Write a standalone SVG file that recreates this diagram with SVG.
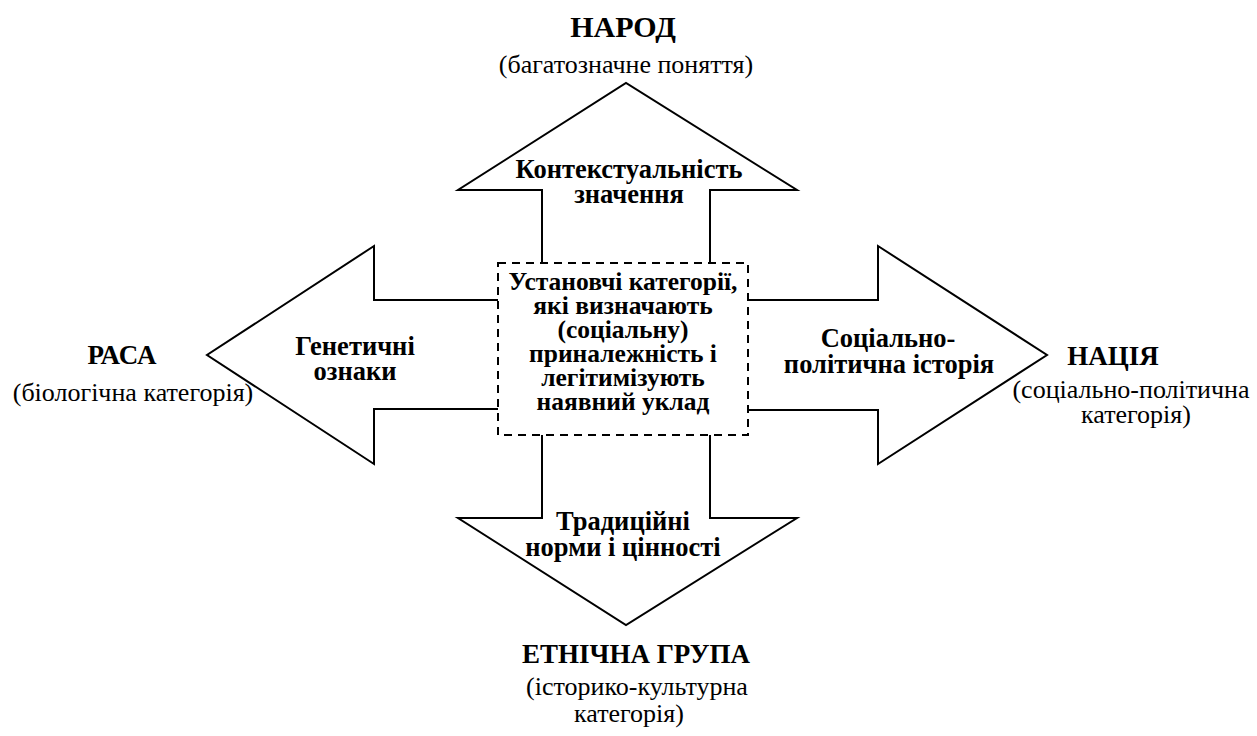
<svg xmlns="http://www.w3.org/2000/svg" width="1257" height="736" viewBox="0 0 1257 736" lang="uk">
<style>
.shape{fill:none;stroke:#000;stroke-width:2;stroke-linejoin:miter}
.box{fill:none;stroke:#000;stroke-width:2;stroke-dasharray:8 6}
</style>
<rect width="1257" height="736" fill="#fff"/>
<g id="arrow-top">
<polyline class="shape" points="542,263 542,190 458,190 626,83 797,190 710,190 710,263"/>
<text font-family="Liberation Serif, Times New Roman, serif" font-weight="bold" font-size="26.5" text-anchor="middle"><tspan x="629" y="178">Контекстуальність</tspan><tspan x="629" y="203">значення</tspan></text>
</g>
<g id="arrow-left">
<polyline class="shape" points="498,300 374,300 374,246 207,355 374,464 374,409 498,409"/>
<text font-family="Liberation Serif, Times New Roman, serif" font-weight="bold" font-size="26.5" text-anchor="middle"><tspan x="355" y="355">Генетичні</tspan><tspan x="355" y="380">ознаки</tspan></text>
</g>
<g id="arrow-right">
<polyline class="shape" points="748,300 878,300 878,246 1047,355 878,464 878,410 748,410"/>
<text font-family="Liberation Serif, Times New Roman, serif" font-weight="bold" font-size="26.5" text-anchor="middle"><tspan x="888" y="347">Соціально-</tspan><tspan x="889" y="373">політична історія</tspan></text>
</g>
<g id="arrow-bottom">
<polyline class="shape" points="542,435 542,518 458,518 626,625 797,518 710,518 710,435"/>
<text font-family="Liberation Serif, Times New Roman, serif" font-weight="bold" font-size="26.5" text-anchor="middle"><tspan x="623" y="530">Традиційні</tspan><tspan x="623" y="556">норми і цінності</tspan></text>
</g>
<g id="center">
<rect class="box" x="498" y="263" width="250" height="172"/>
<text font-family="Liberation Serif, Times New Roman, serif" font-weight="bold" font-size="25.5" text-anchor="middle"><tspan x="623" y="290">Установчі категорії,</tspan><tspan x="623" y="314">які визначають</tspan><tspan x="623" y="338">(соціальну)</tspan><tspan x="623" y="362">приналежність і</tspan><tspan x="623" y="386">легітимізують</tspan><tspan x="623" y="410">наявний уклад</tspan></text>
</g>
<g id="narod" font-family="Liberation Serif, Times New Roman, serif" text-anchor="middle">
<text font-weight="bold" font-size="30" x="623" y="37">НАРОД</text>
<text font-size="26" x="626" y="73">(багатозначне поняття)</text>
</g>
<g id="rasa" font-family="Liberation Serif, Times New Roman, serif" text-anchor="middle">
<text font-weight="bold" font-size="27" x="122" y="364">РАСА</text>
<text font-size="26" x="133" y="401">(біологічна категорія)</text>
</g>
<g id="natsiya" font-family="Liberation Serif, Times New Roman, serif" text-anchor="middle">
<text font-weight="bold" font-size="27" x="1113" y="365">НАЦІЯ</text>
<text font-size="26"><tspan x="1131" y="398">(соціально-політична</tspan><tspan x="1136" y="423">категорія)</tspan></text>
</g>
<g id="etnichna" font-family="Liberation Serif, Times New Roman, serif" text-anchor="middle">
<text font-weight="bold" font-size="27" x="636" y="663">ЕТНІЧНА ГРУПА</text>
<text font-size="26"><tspan x="637" y="695">(історико-культурна</tspan><tspan x="629" y="722">категорія)</tspan></text>
</g>
<g id="connectors"></g>
</svg>
